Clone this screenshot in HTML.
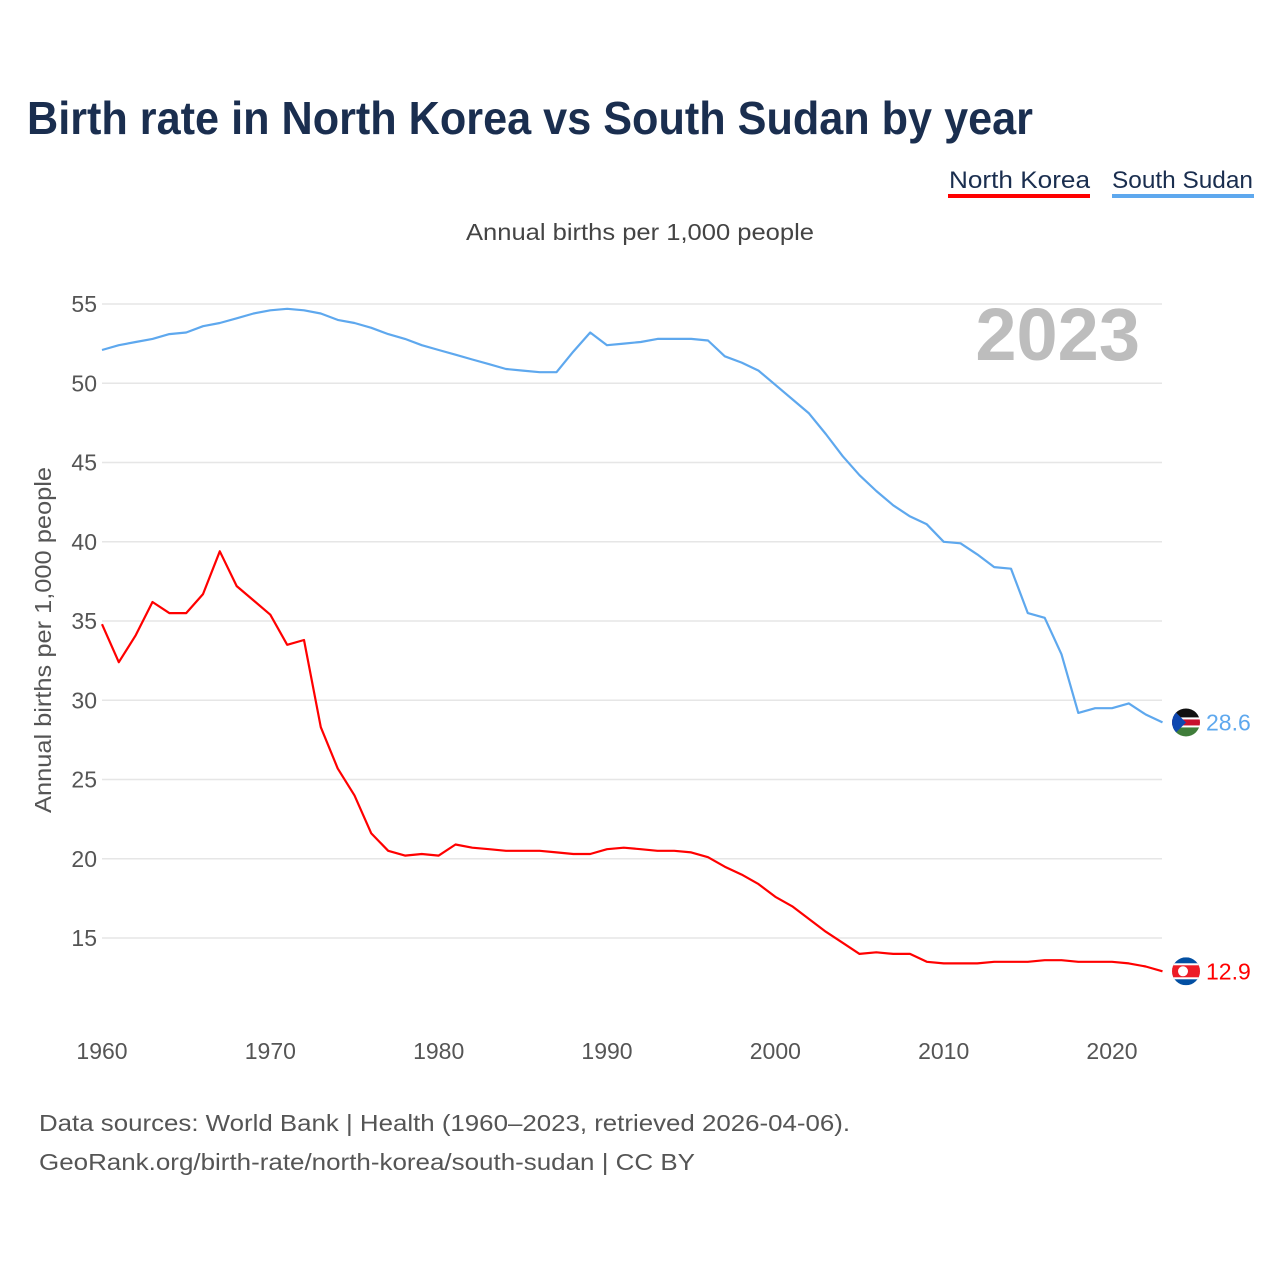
<!DOCTYPE html>
<html><head><meta charset="utf-8">
<style>
body{margin:0;background:#fff;font-family:"Liberation Sans",sans-serif;}
#wrap{position:relative;width:1280px;height:1280px;overflow:hidden;}
</style></head>
<body>
<div id="wrap">
<svg id="chart" width="1280" height="1280" xmlns="http://www.w3.org/2000/svg">
<text x="27" y="134" font-size="46" font-weight="bold" fill="#1a2e4f" textLength="1006" lengthAdjust="spacingAndGlyphs">Birth rate in North Korea vs South Sudan by year</text>
<g>
<text x="949" y="188" font-size="24" fill="#1a2e4f" textLength="141" lengthAdjust="spacingAndGlyphs">North Korea</text>
<rect x="948" y="194" width="142" height="4" fill="#ff0000"/>
</g>
<g>
<text x="1112" y="188" font-size="24" fill="#1a2e4f" textLength="141" lengthAdjust="spacingAndGlyphs">South Sudan</text>
<rect x="1112" y="194" width="142" height="4" fill="#5ea8ee"/>
</g>
<text x="466" y="240" font-size="23" fill="#444" textLength="348" lengthAdjust="spacingAndGlyphs">Annual births per 1,000 people</text>
<text x="1140" y="360" text-anchor="end" font-size="74" font-weight="bold" fill="#bdbdbd">2023</text>
<text transform="translate(51,813) rotate(-90)" font-size="23" fill="#555" textLength="346" lengthAdjust="spacingAndGlyphs">Annual births per 1,000 people</text>
<g id="grid"></g><g id="yticks"></g><g id="xticks"></g><g id="lines"></g><g id="ends"></g>
<text x="39" y="1131" font-size="23" fill="#555" textLength="811" lengthAdjust="spacingAndGlyphs">Data sources: World Bank | Health (1960–2023, retrieved 2026-04-06).</text>
<text x="39" y="1170" font-size="23" fill="#555" textLength="656" lengthAdjust="spacingAndGlyphs">GeoRank.org/birth-rate/north-korea/south-sudan | CC BY</text>
</svg>
</div>
<script>
const years=[];for(let y=1960;y<=2023;y++)years.push(y);
const southSudan=[52.1,52.4,52.6,52.8,53.1,53.2,53.6,53.8,54.1,54.4,54.6,54.7,54.6,54.4,54.0,53.8,53.5,53.1,52.8,52.4,52.1,51.8,51.5,51.2,50.9,50.8,50.7,50.7,52.0,53.2,52.4,52.5,52.6,52.8,52.8,52.8,52.7,51.7,51.3,50.8,49.9,49.0,48.1,46.8,45.4,44.2,43.2,42.3,41.6,41.1,40.0,39.9,39.2,38.4,38.3,35.5,35.2,32.9,29.2,29.5,29.5,29.8,29.1,28.6];
const northKorea=[34.8,32.4,34.1,36.2,35.5,35.5,36.7,39.4,37.2,36.3,35.4,33.5,33.8,28.3,25.7,24.0,21.6,20.5,20.2,20.3,20.2,20.9,20.7,20.6,20.5,20.5,20.5,20.4,20.3,20.3,20.6,20.7,20.6,20.5,20.5,20.4,20.1,19.5,19.0,18.4,17.6,17.0,16.2,15.4,14.7,14.0,14.1,14.0,14.0,13.5,13.4,13.4,13.4,13.5,13.5,13.5,13.6,13.6,13.5,13.5,13.5,13.4,13.2,12.9];
const yTicks=[15,20,25,30,35,40,45,50,55];
const xTicks=[1960,1970,1980,1990,2000,2010,2020];
const NS="http://www.w3.org/2000/svg";
const X=v=>102+(v-1960)*(1010/60);
const Y=v=>938-(v-15)*(634/40);
function mk(tag,attrs,parent,txt){const e=document.createElementNS(NS,tag);for(const k in attrs)e.setAttribute(k,attrs[k]);if(txt!==undefined)e.textContent=txt;document.getElementById(parent).appendChild(e);return e;}
yTicks.forEach(t=>{
 const l=mk('line',{x1:102,x2:1162,y1:Y(t),y2:Y(t),stroke:'#e6e6e6','stroke-width':1.5},'grid');
 
 
 const tx=mk('text',{x:97,y:Y(t)+8,'text-anchor':'end','font-size':23,fill:'#555'},'yticks',t);
 
 
});
xTicks.forEach(t=>{
 const tx=mk('text',{x:X(t),y:1059,'text-anchor':'middle','font-size':23,fill:'#555'},'xticks',t);
 
 
});
function line(vals,color,name){
 const d=vals.map((v,i)=>(i?'L':'M')+X(years[i]).toFixed(1)+','+Y(v).toFixed(1)).join('');
 const p=mk('path',{d:d,fill:'none',stroke:color,'stroke-width':2.2,'stroke-linejoin':'round'},'lines');
 
 
}
line(southSudan,'#5ea8ee','line-south-sudan');
line(northKorea,'#ff0000','line-north-korea');
function endMark(vals,color,name,kind){
 const last=vals[vals.length-1];const y=Y(last);
 const g=mk('g',{},'ends');
 
 
 const cx=1186;
 const s=(t,a)=>{const e=document.createElementNS(NS,t);for(const k in a)e.setAttribute(k,a[k]);g.appendChild(e);return e;};
 const cid='clip-'+name;
 const cp=s('clipPath',{id:cid});const c=document.createElementNS(NS,'circle');c.setAttribute('cx',cx);c.setAttribute('cy',y);c.setAttribute('r',14);cp.appendChild(c);
 const fg=s('g',{'clip-path':'url(#'+cid+')'});
 const r=(yy,h,f)=>{const e=document.createElementNS(NS,'rect');e.setAttribute('x',cx-14);e.setAttribute('y',yy);e.setAttribute('width',28);e.setAttribute('height',h);e.setAttribute('fill',f);fg.appendChild(e);};
 if(kind==='ss'){r(y-14,9,'#111');r(y-5,10,'#fff');r(y-3,6,'#c8102e');r(y+5,9,'#3f7d3a');const t=document.createElementNS(NS,'polygon');t.setAttribute('points',(cx-14)+','+(y-14)+' '+(cx)+','+y+' '+(cx-14)+','+(y+14));t.setAttribute('fill','#0f47af');fg.appendChild(t);}
 else{r(y-14,28,'#024fa2');r(y-8,16,'#fff');r(y-6,12,'#ed1c27');const ci=document.createElementNS(NS,'circle');ci.setAttribute('cx',cx-3);ci.setAttribute('cy',y);ci.setAttribute('r',5);ci.setAttribute('fill','#fff');fg.appendChild(ci);}
 s('text',{x:1206,y:y+8,'font-size':23,fill:color}).textContent=last.toFixed(1);
}
endMark(southSudan,'#5ea8ee','south-sudan','ss');
endMark(northKorea,'#ff0000','north-korea','nk');
</script>
</body></html>
